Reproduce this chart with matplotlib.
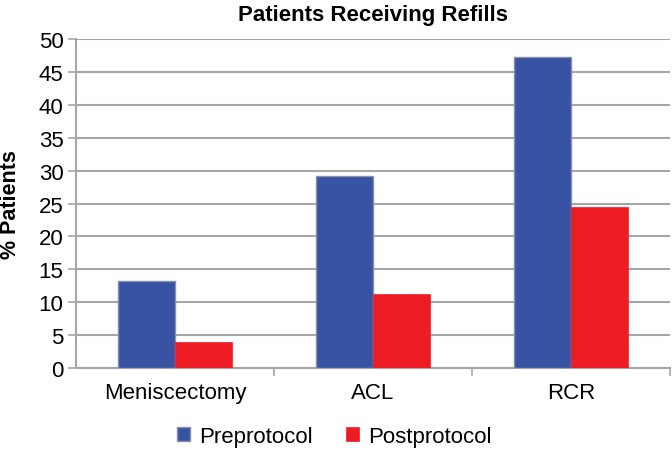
import matplotlib.pyplot as plt
import numpy as np

plt.rcParams['font.family'] = ['Liberation Sans', 'DejaVu Sans']

categories = ["Meniscectomy", "ACL", "RCR"]
preprotocol = [13.2, 29.2, 47.3]
postprotocol = [4.0, 11.3, 24.4]

BLUE = "#3953a4"
RED = "#ed1c24"
GRID = "#a6a6a6"

fig = plt.figure(figsize=(6.72, 4.52), dpi=100)
ax = fig.add_axes([0.113, 0.1836, 0.884, 0.7279])

x = np.arange(len(categories))
w = 0.29
ax.bar(x - w / 2, preprotocol, w, color=BLUE, edgecolor="#8a8fa8", linewidth=1.0,
       label="Preprotocol", zorder=3)
ax.bar(x + w / 2, postprotocol, w, color=RED, edgecolor=RED, linewidth=0.5,
       label="Postprotocol", zorder=3)

ax.set_xlim(-0.5, 2.5)
ax.set_ylim(0, 50)
ax.set_yticks(range(0, 51, 5))
ax.yaxis.grid(True, color=GRID, linewidth=1.5, zorder=0)

# category labels centred, ticks at the boundaries
ax.set_xticks(x)
ax.set_xticklabels(categories, fontsize=16)
ax.set_xticks([0.5, 1.5, 2.5], minor=True)
ax.tick_params(axis="x", which="major", length=0, pad=10)
ax.tick_params(axis="x", which="minor", length=6, color=GRID, width=1.2)
ax.tick_params(axis="y", length=6, color=GRID, width=1.2, labelsize=16, pad=3)

for side in ["top", "right"]:
    ax.spines[side].set_visible(False)
for side in ["left", "bottom"]:
    ax.spines[side].set_color(GRID)
    ax.spines[side].set_linewidth(1.5)

fig.text(11 / 672, 1 - 205 / 452, "% Patients", rotation=90, ha="center",
         va="center", fontsize=15.5, fontweight="bold")
fig.text(0.555, 0.99, "Patients Receiving Refills", ha="center", va="top",
         fontsize=16, fontweight="bold")

fig.legend(loc="center", bbox_to_anchor=(0.497, 0.032), ncol=2, frameon=False,
           fontsize=16, handlelength=0.6, handleheight=0.6, columnspacing=1.5,
           handletextpad=0.4)

fig.savefig("out.png", dpi=100)
